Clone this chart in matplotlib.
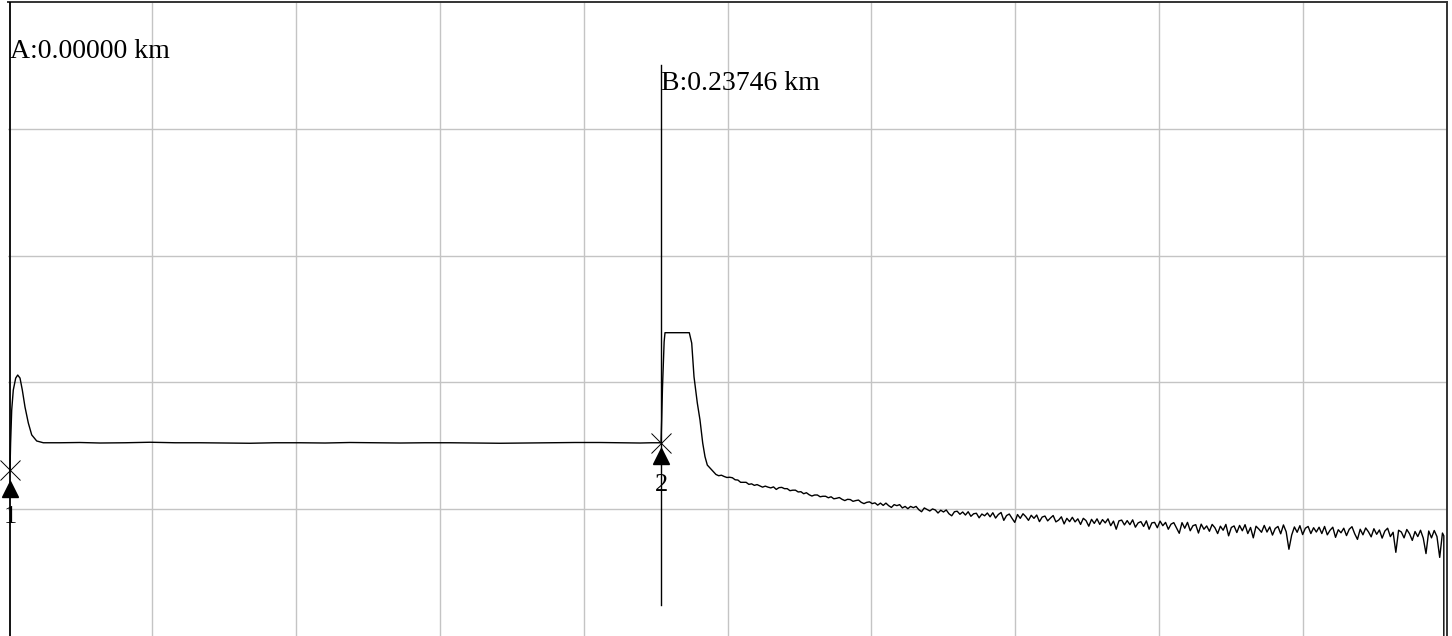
import numpy as np
import matplotlib
matplotlib.use("Agg")
import matplotlib.pyplot as plt
import matplotlib.transforms as mtransforms

# OTDR trace, distance in km, level in dB (5 dB / div)
launch_km = [0.0, 0.00022, 0.00062, 0.00120, 0.00208, 0.00281, 0.00365,
             0.00449, 0.00547, 0.00668, 0.00792, 0.00974, 0.01215]
launch_db = [6.55, 7.60, 8.91, 9.70, 10.17, 10.29, 10.17, 9.70, 9.03,
             8.40, 7.93, 7.69, 7.62]

fiber_km = [0.0182, 0.0255, 0.0328, 0.0420, 0.0511, 0.0602, 0.0693, 0.0784,
            0.0875, 0.0966, 0.1058, 0.1149, 0.1240, 0.1332, 0.1423, 0.1514,
            0.1605, 0.1696, 0.1787, 0.1879, 0.1970, 0.2061, 0.2152, 0.2225,
            0.2298, 0.2340, 0.23746]
fiber_db = [7.62, 7.63, 7.61, 7.62, 7.64, 7.62, 7.62, 7.61, 7.60, 7.62,
            7.62, 7.61, 7.63, 7.62, 7.61, 7.62, 7.62, 7.61, 7.60, 7.61,
            7.62, 7.63, 7.63, 7.62, 7.61, 7.62, 7.62]

refl_km = [0.23770, 0.23800, 0.23860, 0.23892, 0.24778, 0.24866, 0.24950,
           0.25070, 0.25168, 0.25267, 0.25351, 0.25435, 0.25596]
refl_db = [8.50, 9.80, 11.60, 11.96, 11.96, 11.55, 10.22, 9.19, 8.52,
           7.61, 7.07, 6.74, 6.55]

tail_start_km = 0.2575
tail_step_km = 0.001
tail_db = [
    6.37, 6.32, 6.34, 6.29, 6.25, 6.26, 6.24, 6.16, 6.15, 6.06,
    6.06, 6.06, 5.98, 6.00, 5.94, 5.97, 5.92, 5.87, 5.91, 5.87,
    5.84, 5.88, 5.78, 5.85, 5.86, 5.81, 5.81, 5.73, 5.75, 5.75,
    5.68, 5.69, 5.61, 5.65, 5.57, 5.52, 5.56, 5.56, 5.49, 5.51,
    5.51, 5.45, 5.49, 5.41, 5.43, 5.46, 5.39, 5.34, 5.39, 5.38,
    5.31, 5.34, 5.36, 5.27, 5.22, 5.27, 5.29, 5.22, 5.25, 5.16,
    5.24, 5.15, 5.24, 5.14, 5.07, 5.18, 5.14, 5.18, 5.05, 5.11,
    5.02, 5.11, 5.06, 5.11, 4.98, 4.90, 5.05, 4.99, 4.93, 5.01,
    4.97, 4.85, 4.96, 4.89, 4.97, 4.82, 4.74, 4.90, 4.92, 4.80,
    4.89, 4.77, 4.90, 4.72, 4.82, 4.84, 4.66, 4.81, 4.74, 4.85,
    4.70, 4.86, 4.65, 4.79, 4.87, 4.56, 4.75, 4.81, 4.64, 4.48,
    4.79, 4.64, 4.82, 4.71, 4.56, 4.76, 4.64, 4.77, 4.51, 4.69,
    4.73, 4.54, 4.65, 4.75, 4.50, 4.57, 4.70, 4.42, 4.64, 4.51,
    4.68, 4.50, 4.62, 4.40, 4.64, 4.55, 4.33, 4.60, 4.44, 4.62,
    4.40, 4.59, 4.46, 4.62, 4.35, 4.53, 4.21, 4.54, 4.57, 4.38,
    4.55, 4.39, 4.58, 4.29, 4.46, 4.51, 4.32, 4.54, 4.21, 4.46,
    4.48, 4.27, 4.53, 4.35, 4.48, 4.21, 4.41, 4.47, 4.26, 4.05,
    4.47, 4.25, 4.48, 4.15, 4.35, 4.39, 4.06, 4.41, 4.21, 4.34,
    4.13, 4.40, 4.27, 4.04, 4.33, 4.17, 4.40, 3.95, 4.28, 4.34,
    4.08, 4.36, 4.15, 4.39, 4.04, 4.28, 3.87, 4.33, 4.22, 4.09,
    4.36, 4.10, 4.30, 3.98, 4.24, 4.32, 4.03, 4.38, 4.11, 3.42,
    3.98, 4.30, 4.09, 4.35, 4.00, 4.25, 4.32, 4.04, 4.27, 4.10,
    4.29, 4.04, 4.32, 3.99, 4.17, 4.29, 3.89, 4.19, 4.07, 4.25,
    3.96, 4.21, 4.31, 4.03, 3.81, 4.21, 3.99, 4.26, 4.11, 3.91,
    4.23, 4.01, 4.18, 3.86, 4.14, 4.25, 3.92, 4.09, 3.30, 4.17,
    4.10, 3.87, 4.20, 4.03, 3.77, 4.12, 3.92, 4.17, 3.86, 3.25,
    4.14, 3.87, 4.16, 3.92, 3.10, 4.06,
]
end_km = [0.5230, 0.5230]
end_db = [3.95, -1.0]

# cursors
cursor_km = [0.0, 0.23746]
cursor_names = ["A", "B"]
event_labels = ["1", "2"]

tail_km = tail_start_km + tail_step_km * np.arange(len(tail_db))
x = np.concatenate([launch_km, fiber_km, refl_km, tail_km, end_km])
y = np.concatenate([launch_db, fiber_db, refl_db, tail_db, end_db])

xmin, xmax = -0.00073, 0.52416
ymin, ymax = 0, 25

fig = plt.figure(figsize=(14.52, 6.36), dpi=100)
ax = fig.add_axes([8 / 1452, 0, 1439 / 1452, 634 / 636])
ax.set_xlim(xmin, xmax)
ax.set_ylim(ymin, ymax)
ax.set_xticks(np.linspace(xmin, xmax, 11)[1:-1])
ax.set_yticks(np.linspace(ymin, ymax, 6)[1:-1])
ax.tick_params(length=0, labelbottom=False, labelleft=False)
ax.grid(True, color="#c4c4c4", lw=1.0)
ax.set_axisbelow(True)
for s in ["left", "bottom"]:
    ax.spines[s].set_visible(False)
for s in ["top", "right"]:
    ax.spines[s].set_color("#333333")
    ax.spines[s].set_linewidth(1.4)

ax.plot(x, y, color="black", lw=1.0, zorder=3)

font = "Liberation Serif"
# cursor lines
ax.axvline(cursor_km[0], color="black", lw=1.3, zorder=4)
ax.plot([cursor_km[1]] * 2, [1.22, 22.5], color="black", lw=1.0, zorder=4)
ax.text(cursor_km[0], 23.05, "%s:%.5f km" % (cursor_names[0], cursor_km[0]),
        fontsize=20, family=font, va="center", ha="left")
ax.text(cursor_km[1], 21.8, "%s:%.5f km" % (cursor_names[1], cursor_km[1]),
        fontsize=20, family=font, va="center", ha="left")

# event markers
tri_drop = [19, 13]
lab_drop = [47, 42]
for km, lab, td, ld in zip(cursor_km, event_labels, tri_drop, lab_drop):
    lvl = np.interp(km, x, y) if km > 0 else launch_db[0]
    ax.plot(km, lvl, marker="x", ms=15, mew=0.7, color="black", zorder=5,
            clip_on=False)
    tr = mtransforms.offset_copy(ax.transData, fig=fig, x=0, y=-td, units="dots")
    ax.plot(km, lvl, marker="^", ms=12, color="black", transform=tr,
            zorder=5, clip_on=False)
    tl = mtransforms.offset_copy(ax.transData, fig=fig, x=0, y=-ld, units="dots")
    ax.text(km, lvl, lab, transform=tl, fontsize=19, family=font,
            ha="center", va="center")

fig.savefig("out.png", dpi=100)
